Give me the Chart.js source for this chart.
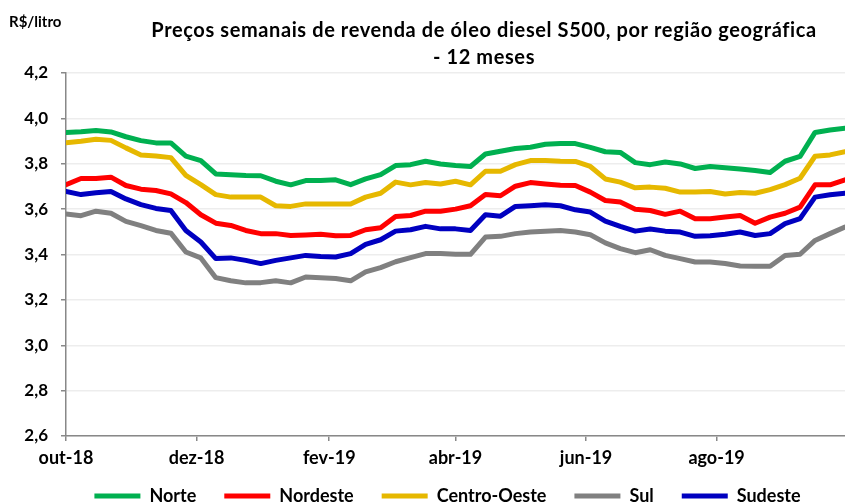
<!DOCTYPE html>
<html>
<head>
<meta charset="utf-8">
<script src="https://cdn.jsdelivr.net/npm/chart.js@4.4.1/dist/chart.umd.min.js"></script>
<style>
  html, body { margin: 0; padding: 0; background: #fff; }
</style>
</head>
<body>
<canvas id="myChart" width="845" height="503"></canvas>
<script>
// weekly prices (R$/litro), first week of out-18 to end of set-19
var norte = [3.938, 3.941, 3.947, 3.940, 3.919, 3.902, 3.892, 3.892, 3.834, 3.814, 3.755, 3.752, 3.748, 3.747, 3.723, 3.707, 3.726,
  3.726, 3.729, 3.708, 3.733, 3.752, 3.792, 3.796, 3.811, 3.799, 3.792, 3.788, 3.843, 3.855, 3.867, 3.873, 3.886, 3.889, 3.889,
  3.872, 3.853, 3.850, 3.805, 3.796, 3.808, 3.799, 3.779, 3.788, 3.782, 3.777, 3.770, 3.761, 3.811, 3.832, 3.938, 3.949, 3.956];
var nordeste = [3.708, 3.735, 3.735, 3.741, 3.704, 3.688, 3.682, 3.667, 3.629, 3.575, 3.538, 3.528, 3.506, 3.492, 3.492, 3.484, 3.486,
  3.489, 3.483, 3.484, 3.509, 3.518, 3.568, 3.572, 3.591, 3.591, 3.600, 3.615, 3.664, 3.659, 3.701, 3.717, 3.711, 3.705, 3.704,
  3.675, 3.638, 3.631, 3.599, 3.594, 3.577, 3.591, 3.558, 3.558, 3.565, 3.572, 3.538, 3.565, 3.582, 3.609, 3.707, 3.707, 3.729];
var centroOeste = [3.892, 3.899, 3.908, 3.903, 3.870, 3.839, 3.834, 3.827, 3.749, 3.708, 3.664, 3.653, 3.653, 3.653, 3.615, 3.612, 3.623,
  3.623, 3.623, 3.623, 3.653, 3.670, 3.719, 3.707, 3.717, 3.711, 3.723, 3.707, 3.767, 3.767, 3.796, 3.814, 3.814, 3.811, 3.810,
  3.788, 3.733, 3.719, 3.694, 3.697, 3.692, 3.675, 3.675, 3.678, 3.667, 3.673, 3.670, 3.686, 3.708, 3.736, 3.833, 3.839, 3.853];
var sul = [3.579, 3.571, 3.591, 3.582, 3.546, 3.527, 3.506, 3.494, 3.411, 3.385, 3.298, 3.284, 3.275, 3.276, 3.284, 3.275, 3.301,
  3.298, 3.294, 3.284, 3.323, 3.342, 3.368, 3.386, 3.404, 3.404, 3.401, 3.401, 3.477, 3.480, 3.492, 3.499, 3.502, 3.506, 3.499,
  3.487, 3.451, 3.426, 3.408, 3.421, 3.396, 3.382, 3.367, 3.367, 3.360, 3.349, 3.348, 3.348, 3.396, 3.401, 3.462, 3.492, 3.521];
var sudeste = [3.678, 3.664, 3.672, 3.678, 3.645, 3.620, 3.603, 3.594, 3.506, 3.455, 3.382, 3.385, 3.374, 3.360, 3.374, 3.385, 3.396,
  3.391, 3.389, 3.404, 3.445, 3.465, 3.503, 3.509, 3.524, 3.513, 3.513, 3.506, 3.575, 3.569, 3.612, 3.615, 3.619, 3.615, 3.597,
  3.587, 3.547, 3.524, 3.503, 3.512, 3.503, 3.499, 3.480, 3.483, 3.489, 3.499, 3.484, 3.492, 3.536, 3.558, 3.653, 3.663, 3.670];

// month ticks, in days counted from 1 Oct 2018
var tickLabels = ["out-18", "dez-18", "fev-19", "abr-19", "jun-19", "ago-19"];
var tickDays = [0, 61, 123, 182, 243, 304];

var titleLines = ["Preços semanais de revenda de óleo diesel S500, por região geográfica", "- 12 meses"];
var unitLabel = "R$/litro";

function toPoints(values) {
  var pts = [];
  for (var i = 0; i < values.length; i++) {
    pts.push({x: i * 7, y: values[i]});
  }
  return pts;
}

function lineSet(label, values, color) {
  return {
    label: label,
    data: toPoints(values),
    borderColor: color,
    backgroundColor: color,
    borderWidth: 5,
    pointRadius: 0,
    tension: 0,
    borderCapStyle: 'round',
    borderJoinStyle: 'round'
  };
}

// title and unit label, drawn as canvas text
var textPlugin = {
  id: 'textPlugin',
  afterDraw: function(chart) {
    var ctx = chart.ctx;
    ctx.save();
    ctx.fillStyle = '#000';
    ctx.textBaseline = 'alphabetic';
    ctx.font = 'bold 15px Lato';
    ctx.textAlign = 'left';
    ctx.fillText(unitLabel, 9, 27);
    ctx.font = 'bold 20px Lato';
    ctx.letterSpacing = '0.6px';
    ctx.textAlign = 'center';
    ctx.fillText(titleLines[0], 484, 37);
    ctx.fillText(titleLines[1], 484, 64);
    ctx.restore();
  }
};

// legend padding is used both ways, so cut its height back,
// and nudge the row a bit left like the original
var legendFit = {
  id: 'legendFit',
  beforeLayout: function(chart) {
    var lg = chart.legend;
    if (lg && !lg._fitPatched) {
      var orig = lg.fit;
      lg.fit = function() { orig.call(this); this.height = 44; };
      lg._fitPatched = true;
    }
  },
  afterLayout: function(chart) {
    var lg = chart.legend;
    if (lg) {
      lg.left -= 8;
      lg.right -= 8;
    }
  }
};

var ctx = document.getElementById('myChart');
var chart = new Chart(ctx, {
  type: 'line',
  data: {
    datasets: [
      lineSet("Norte", norte, "#00B050"),
      lineSet("Nordeste", nordeste, "#FF0000"),
      lineSet("Centro-Oeste", centroOeste, "#E6B800"),
      lineSet("Sul", sul, "#808080"),
      lineSet("Sudeste", sudeste, "#0000C0")
    ]
  },
  options: {
    responsive: false,
    animation: false,
    devicePixelRatio: 1,
    layout: { padding: { top: 73, right: 0, left: 0, bottom: 0 } },
    scales: {
      x: {
        type: 'linear',
        min: 0,
        max: 364,
        afterBuildTicks: function(scale) {
          scale.ticks = tickDays.map(function(d) { return {value: d}; });
        },
        afterFit: function(scale) {
          scale.height = 23;
          // let the month labels spill below the short axis box
          scale._computeLabelArea = function() { return undefined; };
        },
        ticks: {
          autoSkip: false,
          maxRotation: 0,
          padding: 6,
          color: '#000',
          font: { family: 'Lato', size: 18, weight: 'bold' },
          callback: function(value) {
            var k = tickDays.indexOf(value);
            return k >= 0 ? tickLabels[k] : '';
          }
        },
        grid: { drawOnChartArea: false, tickLength: 5, tickColor: '#888', lineWidth: 1.5 },
        border: { color: '#888', width: 1.5 }
      },
      y: {
        min: 2.6,
        max: 4.2,
        afterFit: function(scale) { scale.width = 66; },
        ticks: {
          stepSize: 0.2,
          padding: 13,
          color: '#000',
          font: { family: 'Lato', size: 17, weight: 'bold' },
          callback: function(value) { return value.toFixed(1).replace('.', ','); }
        },
        grid: { color: '#ededed', lineWidth: 1.5, tickLength: 5, tickColor: '#888' },
        border: { color: '#888', width: 1.5 }
      }
    },
    plugins: {
      title: { display: false },
      tooltip: { enabled: false },
      legend: {
        display: true,
        position: 'bottom',
        fullSize: false,
        labels: {
          usePointStyle: true,
          pointStyle: 'line',
          pointStyleWidth: 46,
          boxHeight: 5,
          padding: 28,
          color: '#000',
          font: { family: 'Lato', size: 18, weight: 'bold' }
        }
      }
    }
  },
  plugins: [textPlugin, legendFit]
});
</script>
</body>
</html>
